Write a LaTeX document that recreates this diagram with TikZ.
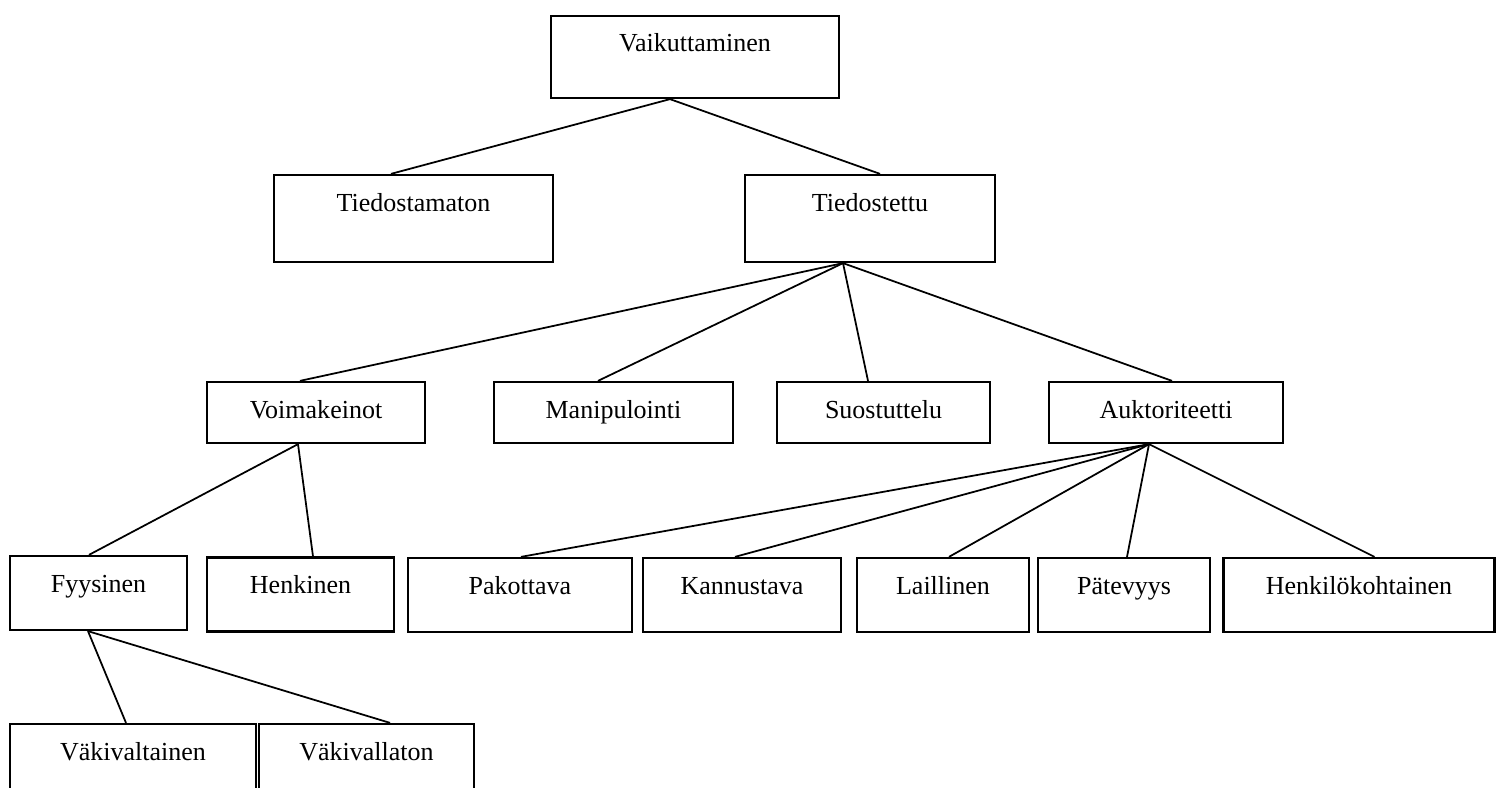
\documentclass[tikz,border=0pt]{standalone}
\usepackage{fontspec}
\setmainfont{Liberation Serif}
\usetikzlibrary{calc}

\begin{document}
\begin{tikzpicture}[
  x=0.02cm, y=-0.02cm,
  box/.style={draw=black, line width=1.3pt, rectangle, inner sep=0pt, align=center,
    font=\fontsize{14.8pt}{17pt}\selectfont, text height=0.36cm},
  rowa/.style={box, minimum height=1.64cm, text depth=0.56cm},
  rowb/.style={box, minimum height=1.74cm, text depth=0.66cm},
  rowc/.style={box, minimum height=1.22cm, text depth=0.14cm},
  rowd/.style={box, minimum height=1.48cm, text depth=0.40cm},
  rowe/.style={box, minimum height=1.60cm, text depth=0.52cm},
  link/.style={draw=black, line width=1pt}
]
\useasboundingbox (0,0) rectangle (1496,787);
\clip (0,0) rectangle (1496,787);

% top level
\node[rowa, minimum width=5.76cm] (vaik) at (695,57) {Vaikuttaminen};

% second level
\node[rowb, minimum width=5.58cm] (tdm) at (413.5,218.5) {Tiedostamaton};
\node[rowb, minimum width=5.00cm] (tdt) at (870,218.5)   {Tiedostettu};

% third level
\node[rowc, minimum width=4.36cm] (voim) at (316,412.5)    {Voimakeinot};
\node[rowc, minimum width=4.78cm] (mani) at (613.5,412.5)  {Manipulointi};
\node[rowc, minimum width=4.26cm] (suos) at (883.5,412.5)  {Suostuttelu};
\node[rowc, minimum width=4.68cm] (aukt) at (1166,412.5)   {Auktoriteetti};

% fourth level
\node[rowd, minimum width=3.54cm] (fyys)  at (98.5,593)    {Fyysinen};
\node[rowd, minimum width=3.74cm] (henk)  at (300.5,594.5) {Henkinen};
\node[rowd, minimum width=4.48cm] (pako)  at (520,595)     {Pakottava};
\node[rowd, minimum width=3.96cm] (kann)  at (742,595)     {Kannustava};
\node[rowd, minimum width=3.44cm] (lail)  at (943,595)     {Laillinen};
\node[rowd, minimum width=3.44cm] (pate)  at (1124,595)    {Pätevyys};
\node[rowd, minimum width=5.42cm] (henko) at (1359,595)    {Henkilökohtainen};

% fifth level, cut by the page edge
\node[rowe, minimum width=4.92cm] (vakt) at (133,764)   {Väkivaltainen};
\node[rowe, minimum width=4.30cm] (vakl) at (366.5,764) {Väkivallaton};

% connectors
\coordinate (vaik-b) at ($(vaik.south)+(-25,0)$);
\draw[link] (vaik-b) -- ($(tdm.north)+(-22.5,0)$);
\draw[link] (vaik-b) -- ($(tdt.north)+(10,0)$);

\coordinate (tdt-b) at ($(tdt.south)+(-27,0)$);
\foreach \n/\dx in {voim/-16, mani/-15.5, suos/-15.5, aukt/6}
  \draw[link] (tdt-b) -- ($(\n.north)+(\dx,0)$);

\coordinate (voim-b) at ($(voim.south)+(-18,0)$);
\foreach \n/\dx in {fyys/-9.5, henk/12.5}
  \draw[link] (voim-b) -- ($(\n.north)+(\dx,0)$);

\coordinate (aukt-b) at ($(aukt.south)+(-17,0)$);
\foreach \n/\dx in {pako/1, kann/-7, lail/6, pate/3, henko/15.5}
  \draw[link] (aukt-b) -- ($(\n.north)+(\dx,0)$);

\coordinate (fyys-b) at ($(fyys.south)+(-10.5,0)$);
\foreach \n/\dx in {vakt/-7, vakl/23.5}
  \draw[link] (fyys-b) -- ($(\n.north)+(\dx,0)$);

\end{tikzpicture}
\end{document}
